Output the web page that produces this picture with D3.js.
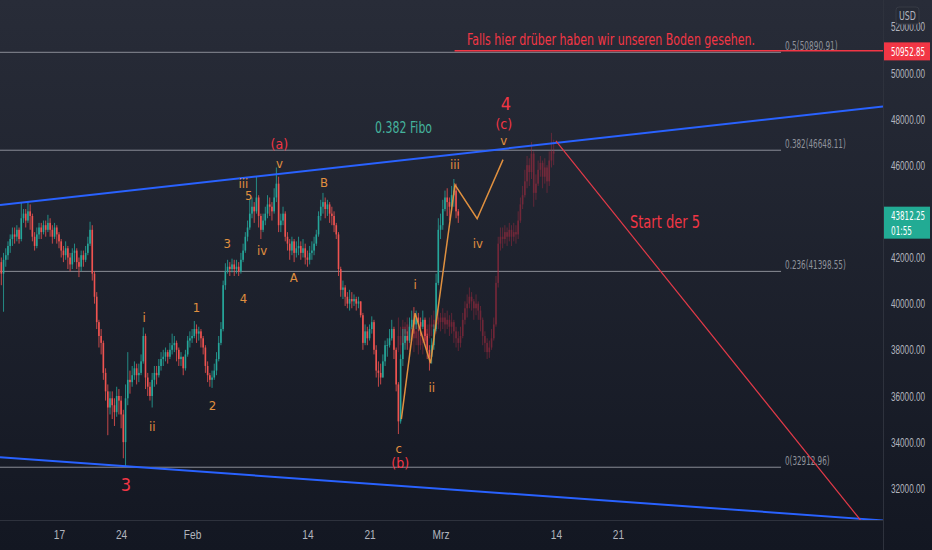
<!DOCTYPE html>
<html>
<head>
<meta charset="utf-8">
<script src="https://cdn.jsdelivr.net/npm/d3@7"></script>
<style>
  html, body { margin: 0; padding: 0; background: #131722; }
  svg { display: block; font-family: "Liberation Sans Narrow", "DejaVu Sans Condensed", Roboto, sans-serif; }
</style>
</head>
<body>
<div id="chart"></div>
<script>
const width = 932;
const height = 550;
const plotRight = 883;
const plotBottom = 520;

// 6h candles, BTC/USD, from 2022-01-10 12:00 UTC (open of each bar = close of the previous)
const realStart = "2022-01-10T12:00Z";
const realFirstOpen = 41800;
const realClose = [
  41300, 41900,
  42100, 42500, 42800, 43000,  42900, 43200, 42800, 43700,  43900, 43600, 44000, 43800,
  42900, 42500, 43000, 43300,  43100, 43400, 43200, 43500,  43200, 42900, 43300, 43000,
  42700, 42300, 42100, 42400,  42000, 41700, 42200, 42300,  41800, 41600, 42100, 41900,
  42200, 42600, 43200, 41300,  40300, 39200, 38600, 38300,  37000, 36200, 35500, 35900,
  35600, 35300, 36000, 35800,  35200, 34000, 35900, 36700,  36600, 36900, 37200, 36900,
  37000, 37500, 38600, 36800,  36400, 36000, 36700, 37000,  36900, 37300, 37600, 37700,
  37900, 37700, 38000, 38200,  38300, 38000, 37600, 37700,  37200, 37800, 38400, 38500,
  38600, 38900, 38700, 38800,  38500, 38100, 37300, 36900,  36700, 36800, 37100, 37600,
  38300, 38900, 40800, 41400,  41600, 41500, 41700, 41500,  41600, 41400, 41900, 42300,
  42900, 43300, 43900, 44200,  44000, 44600, 43800, 43200,  43600, 43900, 44300, 44200,
  44000, 44600, 45200, 43400,  43600, 43900, 42900, 42600,  42300, 42700, 42200, 42400,
  42500, 42200, 42400, 42000,  41900, 42200, 42300, 42600,  43000, 43800, 44200, 44400,
  44100, 44300, 43900, 43800,  43400, 43000, 41500, 40600,  40700, 40300, 40000, 40200,
  40100, 40200, 40000, 40100,  39500, 38300, 38800, 38500,  38900, 39200, 38000, 37100,
  37000, 36800, 37500, 38200,  38200, 38500, 38900, 38000,  36500, 34900, 37600, 38300,
  38600, 38400, 39000, 39300,  39100, 39400, 39200, 39000,  39300, 38600, 38000, 37700,
  38200, 38900, 40900, 43200,  43400, 44100, 44600, 44400,  44200, 44700, 44900, 44000,
  43812.25
];
const realHigh = [
  42000, 42200,
  42400, 42700, 43000, 43300,  43300, 43400, 43300, 44400,  44100, 44100, 44400, 44300,
  43900, 43100, 43300, 43500,  43500, 43600, 43600, 43850,  43700, 43400, 43500, 43400,
  43100, 42800, 42500, 42700,  42500, 42200, 42400, 42600,  42400, 42000, 42300, 42300,
  42500, 42900, 43550, 43400,  41400, 40500, 39300, 38900,  38400, 37200, 36500, 36200,
  36200, 35900, 36400, 36300,  36000, 35400, 36500, 37900,  37100, 37300, 37500, 37400,
  37400, 37800, 38970, 38700,  37000, 36600, 37000, 37300,  37300, 37600, 37900, 38000,
  38100, 38000, 38300, 38700,  38600, 38400, 38100, 37900,  37700, 38000, 38600, 38800,
  38900, 39250, 39100, 39000,  38900, 38600, 38200, 37500,  37000, 37100, 37400, 37900,
  38600, 39200, 41000, 41750,  41900, 41800, 41950, 41900,  41900, 41800, 42200, 42600,
  43100, 43600, 44500, 44600,  44400, 45500, 44700, 43900,  43900, 44200, 44700, 44600,
  44400, 45000, 45900, 45500,  43900, 44200, 44000, 43100,  42800, 42900, 42800, 42700,
  42900, 42700, 42800, 42600,  42300, 42500, 42700, 42900,  43200, 44000, 44500, 44800,
  44600, 44500, 44400, 44200,  44000, 43500, 43100, 41600,  41000, 40800, 40500, 40600,
  40500, 40400, 40300, 40300,  40100, 39600, 39100, 39000,  39100, 39450, 39300, 38200,
  37500, 37400, 37800, 38400,  38500, 38900, 39300, 39000,  38100, 36600, 37800, 38900,
  38900, 38800, 39400, 39700,  39850, 39700, 39600, 39400,  39700, 39400, 38700, 38200,
  38500, 39100, 41300, 43700,  43900, 44500, 44900, 45000,  44600, 45100, 45400, 45200,
  44100
];
const realLow = [
  40800, 39650,
  41600, 41900, 42200, 42500,  42600, 42700, 42600, 42700,  43500, 43300, 43500, 43200,
  42700, 42300, 42400, 42800,  42800, 43000, 42900, 43100,  42900, 42600, 42800, 42600,
  42400, 42000, 41800, 41900,  41500, 41400, 41500, 41800,  41500, 41150, 41400, 41600,
  41800, 42100, 42500, 41000,  40000, 38900, 38100, 37800,  36700, 35800, 34300, 35200,
  35000, 34700, 35100, 35200,  34600, 33300, 32913, 35600,  36100, 36400, 36700, 36500,
  36600, 36900, 37400, 36300,  36000, 35800, 35500, 36400,  36500, 36800, 37100, 37300,
  37500, 37400, 37600, 37800,  37900, 37500, 37300, 37300,  36900, 37100, 37700, 38100,
  38300, 38500, 38300, 38400,  38100, 37800, 37000, 36600,  36400, 36350, 36700, 36900,
  37500, 38200, 38800, 40600,  41300, 41200, 41350, 41200,  41300, 41200, 41300, 41800,
  42200, 42700, 43200, 43700,  43500, 43900, 43300, 42800,  43100, 43400, 43700, 43800,
  43600, 43900, 44400, 43100,  43100, 43400, 42700, 42300,  41900, 42100, 41800, 42000,
  42100, 41900, 42000, 41700,  41600, 41700, 41900, 42100,  42500, 42900, 43600, 43900,
  43700, 43800, 43500, 43400,  43100, 42800, 41200, 40300,  40200, 39900, 39800, 39700,
  39800, 39900, 39700, 39800,  39400, 38000, 38200, 38200,  38400, 38700, 37800, 36800,
  36400, 36500, 36800, 37300,  37700, 38100, 38400, 37600,  36200, 34350, 34800, 37300,
  38000, 38000, 38300, 38900,  38700, 38900, 38800, 38600,  38900, 38400, 37600, 37100,
  37400, 38000, 38800, 40800,  42800, 43200, 44000, 43800,  43600, 44000, 44200, 43700,
  43500
];

// projected bar pattern (ghost candles), 6h bars from 2022-02-24 06:00 UTC
const ghostStart = "2022-02-24T06:00Z";
const ghostFirstOpen = 38000;
const ghostClose = [
  38600, 38200, 39000,
  38700, 39100, 38400, 38900,  38500, 38800, 38200, 38600,  38300, 38900, 38600, 39100,
  39000, 39300, 39100, 39400,  39200, 39400, 39100, 39300,  39000, 39200, 38800, 38500,
  38300, 38600, 39300, 39800,  40000, 40300, 40100, 39800,  40000, 39700, 39300, 38600,
  38300, 37900, 38100, 38500,  39100, 40900, 42600, 42900,  42800, 43100, 42900, 43200,
  42900, 43100, 43000, 43600,  44300, 44700, 45300, 46000,  45700, 46500, 44800, 45200,
  45800, 46100, 45500, 45900,  45300, 46200, 46600, 46500
];
const ghostHigh = [
  39400, 39000, 39300,
  39200, 39400, 39200, 39300,  39100, 39200, 38900, 39000,  38800, 39300, 39100, 39400,
  39500, 39700, 39500, 39800,  39600, 39800, 39600, 39700,  39500, 39600, 39300, 39000,
  38800, 39000, 39600, 40100,  40400, 40700, 40500, 40200,  40400, 40100, 39900, 39400,
  38800, 38500, 38400, 38900,  39400, 41200, 42900, 43300,  43300, 43400, 43300, 43500,
  43400, 43500, 43400, 44000,  44600, 45100, 45800, 46400,  46300, 47000, 46600, 45600,
  46200, 46400, 46200, 46300,  46000, 46600, 47400, 47100
];
const ghostLow = [
  37900, 37800, 38100,
  38200, 38500, 37900, 38200,  37900, 38200, 37800, 38000,  37800, 38200, 38100, 38500,
  38600, 38800, 38700, 38900,  38800, 38900, 38700, 38900,  38600, 38700, 38300, 38100,
  37950, 38100, 38500, 39100,  39400, 39800, 39700, 39300,  39500, 39300, 38800, 38200,
  37900, 37600, 37650, 38000,  38400, 39000, 40700, 42300,  42400, 42600, 42500, 42700,
  42500, 42700, 42600, 42800,  43500, 44100, 44600, 45000,  45100, 45400, 44200, 44500,
  45100, 45500, 45000, 45200,  44800, 45100, 45900, 46000
];

const priceTicks = [32000, 34000, 36000, 38000, 40000, 42000, 44000, 46000, 48000, 50000, 52000];
const timeTickDates = ["2022-01-17", "2022-01-24", "2022-02-01", "2022-02-14", "2022-02-21", "2022-03-01", "2022-03-14", "2022-03-21"];
const timeTickLabels = ["17", "24", "Feb", "14", "21", "Mrz", "14", "21"];

const fibRatios = ["0", "0.236", "0.382", "0.5"];
const fibPrices = [32912.96, 41398.55, 46648.11, 50890.91];
const fibEnd = "2022-04-08T09:00Z";

// channel lines, two anchors each (extended across the chart)
const upperChannel = [["2022-01-13T00:00Z", 44390], ["2022-03-14T00:00Z", 46960]];
const lowerChannel = [["2022-01-24T12:00Z", 32958], ["2022-03-14T00:00Z", 31624]];
const targetLine = [["2022-03-14T00:00Z", 47050], ["2022-04-17T08:00Z", 30620]];

const wavePath = [
  ["2022-02-24T14:00Z", 35000],
  ["2022-02-26T03:00Z", 39590],
  ["2022-02-27T21:00Z", 37420],
  ["2022-03-02T15:00Z", 45150],
  ["2022-03-05T03:00Z", 43680],
  ["2022-03-08T01:00Z", 46240]
];

const lastPrice = 43812.25;
const lastCountdown = "01:55";
const alertPrice = 50952.85;
const alertStart = "2022-03-02T14:00Z";

const waveLabels = [
  {text: "3", date: "2022-01-24T13:00Z", price: 32186, degree: "major"},
  {text: "4", date: "2022-03-08T09:00Z", price: 48651, degree: "major"},
  {text: "(a)", date: "2022-02-10T20:00Z", price: 46918, degree: "inter"},
  {text: "(b)", date: "2022-02-24T11:00Z", price: 33096, degree: "inter"},
  {text: "(c)", date: "2022-03-08T03:00Z", price: 47784, degree: "inter"},
  {text: "i", date: "2022-01-26T14:00Z", price: 39422, degree: "minor"},
  {text: "ii", date: "2022-01-27T12:00Z", price: 34656, degree: "minor"},
  {text: "1", date: "2022-02-01T12:00Z", price: 39855, degree: "minor"},
  {text: "2", date: "2022-02-03T07:00Z", price: 35609, degree: "minor"},
  {text: "3", date: "2022-02-04T23:00Z", price: 42628, degree: "minor"},
  {text: "4", date: "2022-02-06T19:00Z", price: 40245, degree: "minor"},
  {text: "5", date: "2022-02-07T09:00Z", price: 44665, degree: "minor"},
  {text: "iii", date: "2022-02-06T19:00Z", price: 45185, degree: "minor"},
  {text: "iv", date: "2022-02-08T21:00Z", price: 42282, degree: "minor"},
  {text: "v", date: "2022-02-10T20:00Z", price: 46094, degree: "minor"},
  {text: "A", date: "2022-02-12T11:00Z", price: 41155, degree: "minor"},
  {text: "B", date: "2022-02-15T21:00Z", price: 45228, degree: "minor"},
  {text: "c", date: "2022-02-24T07:00Z", price: 33746, degree: "minor"},
  {text: "i", date: "2022-02-26T03:00Z", price: 40809, degree: "minor"},
  {text: "ii", date: "2022-02-28T00:00Z", price: 36389, degree: "minor"},
  {text: "iii", date: "2022-03-02T15:00Z", price: 46008, degree: "minor"},
  {text: "iv", date: "2022-03-05T05:00Z", price: 42628, degree: "minor"},
  {text: "v", date: "2022-03-08T03:00Z", price: 47048, degree: "minor"}
];

const notes = [
  {text: "Falls hier drüber haben wir unseren Boden gesehen.", date: "2022-03-20T05:00Z", price: 51424, kind: "warn"},
  {text: "0.382 Fibo", date: "2022-02-24T20:00Z", price: 47590, kind: "fibo"},
  {text: "Start der 5", date: "2022-03-26T07:00Z", price: 43538, kind: "target"}
];

const upColor = "#26a69a";
const downColor = "#ef5350";
const red = "#f23645";
const orange = "#e0903f";
const axisText = "#b2b5be";
const labelStyle = {
  major: {color: red, size: 18},
  inter: {color: red, size: 14},
  minor: {color: orange, size: 13}
};
const noteStyle = {
  warn: {color: red, size: 16, span: 288},
  fibo: {color: "#45b39d", size: 15, span: 57},
  target: {color: red, size: 17, span: 70}
};

const d = s => new Date(s);

// squeeze text horizontally, like a narrow face
function condense(sel, k) {
  sel.each(function() {
    const w = this.getComputedTextLength();
    d3.select(this)
      .attr("textLength", w * k)
      .attr("lengthAdjust", "spacingAndGlyphs");
  });
}

const x = d3.scaleUtc()
  .domain([d("2022-01-17T00:00Z"), d("2022-03-21T00:00Z")])
  .range([59, 618]);

const y = d3.scaleLinear()
  .domain([32000, 52000])
  .range([488.3, 26.7]);

function buildCandles(start, firstOpen, close, high, low) {
  const t0 = d(start);
  return close.map((c, i) => ({
    t: d3.utcHour.offset(t0, 6 * i),
    o: i === 0 ? firstOpen : close[i - 1],
    c: c,
    h: high[i],
    l: low[i]
  }));
}

const realCandles = buildCandles(realStart, realFirstOpen, realClose, realHigh, realLow);
const ghostCandles = buildCandles(ghostStart, ghostFirstOpen, ghostClose, ghostHigh, ghostLow);

const svg = d3.select("#chart").append("svg")
  .attr("width", width)
  .attr("height", height);

const defs = svg.append("defs");
const grad = defs.append("linearGradient")
  .attr("id", "bg")
  .attr("x1", 0).attr("y1", 0).attr("x2", 0).attr("y2", 1);
grad.append("stop").attr("offset", "0%").attr("stop-color", "#282c38");
grad.append("stop").attr("offset", "100%").attr("stop-color", "#131722");

defs.append("clipPath").attr("id", "plot")
  .append("rect").attr("x", 0).attr("y", 0).attr("width", plotRight).attr("height", plotBottom);

svg.append("rect")
  .attr("width", width).attr("height", height)
  .attr("fill", "url(#bg)");

const plot = svg.append("g").attr("clip-path", "url(#plot)");

// fib retracement levels
const fibG = plot.append("g");
fibPrices.forEach((p, i) => {
  fibG.append("line")
    .attr("x1", 0).attr("x2", x(d(fibEnd)))
    .attr("y1", y(p)).attr("y2", y(p))
    .attr("stroke", "#8a8d96")
    .attr("stroke-width", 1);
  const label = `${fibRatios[i]}(${fibPrices[i].toFixed(2)})`;
  fibG.append("text")
    .attr("x", x(d(fibEnd)) + 4)
    .attr("y", y(p) - 2.5)
    .attr("fill", "#8f929b")
    .attr("font-size", 13)
    .attr("textLength", label.length * 4.05)
    .attr("lengthAdjust", "spacingAndGlyphs")
    .text(label);
});

// alert line with note
plot.append("line")
  .attr("x1", x(d(alertStart))).attr("x2", plotRight)
  .attr("y1", y(alertPrice)).attr("y2", y(alertPrice))
  .attr("stroke", red)
  .attr("stroke-width", 1.5);

// ghost (projected) candles
const ghostG = plot.append("g").attr("opacity", 0.55);
ghostG.selectAll("line")
  .data(ghostCandles)
  .join("line")
  .attr("x1", c => x(c.t)).attr("x2", c => x(c.t))
  .attr("y1", c => y(c.h)).attr("y2", c => y(c.l))
  .attr("stroke", "#b52c42")
  .attr("stroke-width", 0.8);
ghostG.selectAll("rect")
  .data(ghostCandles)
  .join("rect")
  .attr("x", c => x(c.t) - 0.8)
  .attr("width", 1.6)
  .attr("y", c => y(Math.max(c.o, c.c)))
  .attr("height", c => Math.max(0.8, Math.abs(y(c.o) - y(c.c))))
  .attr("fill", "#b52c42");

const realG = plot.append("g");
realG.selectAll("line")
  .data(realCandles)
  .join("line")
  .attr("x1", c => x(c.t)).attr("x2", c => x(c.t))
  .attr("y1", c => y(c.h)).attr("y2", c => y(c.l))
  .attr("stroke", c => c.c >= c.o ? upColor : downColor)
  .attr("stroke-width", 0.8);
realG.selectAll("rect")
  .data(realCandles)
  .join("rect")
  .attr("x", c => x(c.t) - 0.8)
  .attr("width", 1.6)
  .attr("y", c => y(Math.max(c.o, c.c)))
  .attr("height", c => Math.max(0.8, Math.abs(y(c.o) - y(c.c))))
  .attr("fill", c => c.c >= c.o ? upColor : downColor);

// channel lines, extended to the chart edges
function extended(pair) {
  const x0 = x(d(pair[0][0])), y0 = y(pair[0][1]);
  const x1 = x(d(pair[1][0])), y1 = y(pair[1][1]);
  const k = (y1 - y0) / (x1 - x0);
  return [0, y0 - k * x0, plotRight, y0 + k * (plotRight - x0)];
}

[upperChannel, lowerChannel].forEach(pair => {
  const [ax, ay, bx, by] = extended(pair);
  plot.append("line")
    .attr("x1", ax).attr("y1", ay).attr("x2", bx).attr("y2", by)
    .attr("stroke", "#2962ff")
    .attr("stroke-width", 2);
});

plot.append("line")
  .attr("x1", x(d(targetLine[0][0]))).attr("y1", y(targetLine[0][1]))
  .attr("x2", x(d(targetLine[1][0]))).attr("y2", y(targetLine[1][1]))
  .attr("stroke", "#e23a48")
  .attr("stroke-width", 1.2);

// projected wave path
plot.append("path")
  .attr("d", d3.line().x(p => x(d(p[0]))).y(p => y(p[1]))(wavePath))
  .attr("fill", "none")
  .attr("stroke", orange)
  .attr("stroke-width", 1.5);

// wave labels
plot.append("g").selectAll("text")
  .data(waveLabels)
  .join("text")
  .attr("x", l => x(d(l.date)))
  .attr("y", l => y(l.price))
  .attr("text-anchor", "middle")
  .attr("dominant-baseline", "central")
  .attr("fill", l => labelStyle[l.degree].color)
  .attr("font-size", l => labelStyle[l.degree].size)
  .text(l => l.text);

plot.append("g").selectAll("text")
  .data(notes)
  .join("text")
  .attr("x", n => x(d(n.date)))
  .attr("y", n => y(n.price))
  .attr("text-anchor", "middle")
  .attr("dominant-baseline", "central")
  .attr("fill", n => noteStyle[n.kind].color)
  .attr("font-size", n => noteStyle[n.kind].size)
  .attr("textLength", n => noteStyle[n.kind].span)
  .attr("lengthAdjust", "spacingAndGlyphs")
  .text(n => n.text);

// axis borders
svg.append("line")
  .attr("x1", plotRight + 0.5).attr("x2", plotRight + 0.5)
  .attr("y1", 0).attr("y2", height)
  .attr("stroke", "#2e323d");
svg.append("line")
  .attr("x1", 0).attr("x2", plotRight)
  .attr("y1", plotBottom + 0.5).attr("y2", plotBottom + 0.5)
  .attr("stroke", "#2e323d");

// price axis
const yAxis = svg.append("g")
  .attr("transform", `translate(${plotRight},0)`)
  .call(d3.axisRight(y).tickValues(priceTicks).tickFormat(d3.format(".2f")).tickSize(0).tickPadding(8));
yAxis.select(".domain").remove();
yAxis.selectAll("text")
  .attr("fill", axisText)
  .attr("font-size", 13)
  .attr("font-family", null)
  .attr("textLength", 34)
  .attr("lengthAdjust", "spacingAndGlyphs");

// time axis
const timeTicks = timeTickDates.map(s => d(s + "T00:00Z"));
const xAxis = svg.append("g")
  .attr("transform", `translate(0,${plotBottom})`)
  .call(d3.axisBottom(x).tickValues(timeTicks).tickFormat((t, i) => timeTickLabels[i]).tickSize(0).tickPadding(10));
xAxis.select(".domain").remove();
xAxis.selectAll("text")
  .attr("fill", axisText)
  .attr("font-size", 13)
  .attr("font-family", null)
  .call(condense, 0.78);

// currency tag
svg.append("rect")
  .attr("x", 896).attr("y", 7).attr("width", 23).attr("height", 17).attr("rx", 3)
  .attr("fill", "#262a35").attr("stroke", "#363a45");
svg.append("text")
  .attr("x", 907.5).attr("y", 16)
  .attr("text-anchor", "middle").attr("dominant-baseline", "central")
  .attr("fill", axisText).attr("font-size", 12)
  .attr("textLength", 17).attr("lengthAdjust", "spacingAndGlyphs")
  .text("USD");

// alert price tag
svg.append("rect")
  .attr("x", plotRight + 1).attr("y", y(alertPrice) - 8.5).attr("width", 46).attr("height", 18)
  .attr("fill", red);
svg.append("text")
  .attr("x", 891).attr("y", y(alertPrice) + 0.5)
  .attr("dominant-baseline", "central")
  .attr("fill", "#ffffff").attr("font-size", 13)
  .attr("textLength", 34).attr("lengthAdjust", "spacingAndGlyphs")
  .text(d3.format(".2f")(alertPrice));

// last price tag
svg.append("rect")
  .attr("x", plotRight + 1).attr("y", y(lastPrice) - 9).attr("width", 46).attr("height", 32)
  .attr("fill", "#22ab94");
svg.append("text")
  .attr("x", 891).attr("y", y(lastPrice))
  .attr("dominant-baseline", "central")
  .attr("fill", "#ffffff").attr("font-size", 13)
  .attr("textLength", 34).attr("lengthAdjust", "spacingAndGlyphs")
  .text(d3.format(".2f")(lastPrice));
svg.append("text")
  .attr("x", 891).attr("y", y(lastPrice) + 15)
  .attr("dominant-baseline", "central")
  .attr("fill", "#ffffff").attr("font-size", 13)
  .attr("textLength", 21).attr("lengthAdjust", "spacingAndGlyphs")
  .text(lastCountdown);
</script>
</body>
</html>
